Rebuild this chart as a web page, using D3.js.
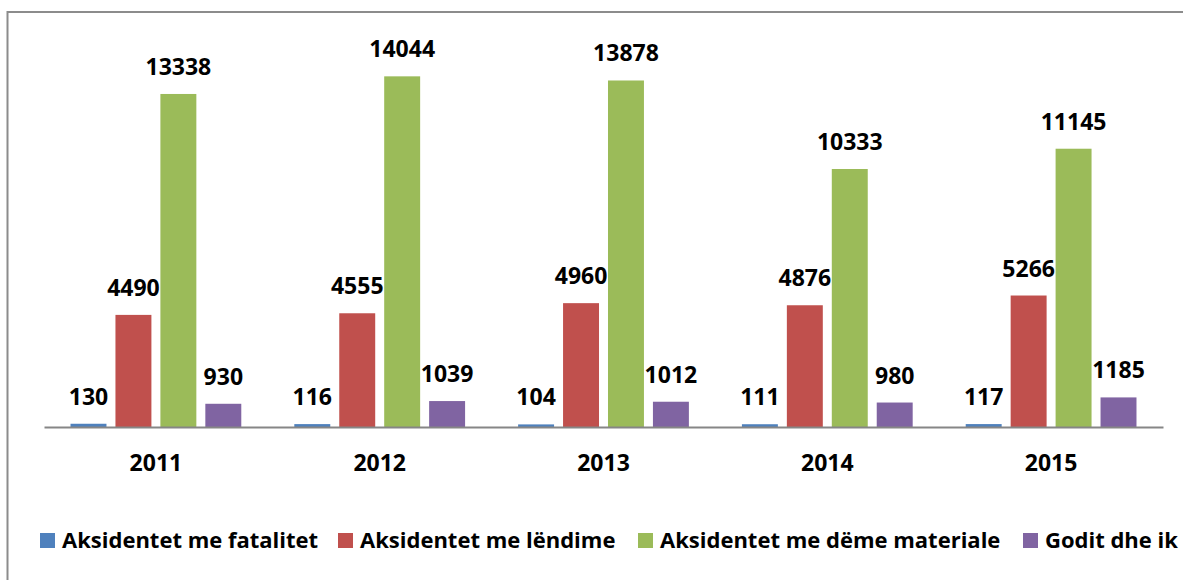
<!DOCTYPE html>
<html>
<head>
<meta charset="utf-8">
<script src="https://cdn.jsdelivr.net/npm/d3@7"></script>
<style>
  body { margin: 0; background: #fff; }
  svg text { font-family: "Open Sans", sans-serif; font-weight: bold; fill: #000; }
</style>
</head>
<body>
<div id="chart"></div>
<script>
var years = ["2011", "2012", "2013", "2014", "2015"];
var seriesNames = ["Aksidentet me fatalitet", "Aksidentet me lëndime", "Aksidentet me dëme materiale", "Godit dhe ik"];
var fatalitet = [130, 116, 104, 111, 117];
var lendime = [4490, 4555, 4960, 4876, 5266];
var demeMateriale = [13338, 14044, 13878, 10333, 11145];
var goditDheIk = [930, 1039, 1012, 980, 1185];
var colors = ["#4F81BD", "#C0504D", "#9BBB59", "#8064A2"];

var values = [fatalitet, lendime, demeMateriale, goditDheIk];

var width = 1183, height = 580;

var svg = d3.select("#chart").append("svg")
    .attr("width", width)
    .attr("height", height);

// outer frame (runs off the right and bottom edges)
svg.append("rect")
    .attr("x", 7.5)
    .attr("y", 12)
    .attr("width", 1300)
    .attr("height", 700)
    .attr("fill", "none")
    .attr("stroke", "#8c8c8c")
    .attr("stroke-width", 2);

var xScale = d3.scaleBand()
    .domain(years)
    .range([44, 1163]);

var xInner = d3.scaleBand()
    .domain(d3.range(seriesNames.length))
    .range([0, xScale.bandwidth()])
    .paddingInner(0.2)
    .paddingOuter(0.59);

var yScale = d3.scaleLinear()
    .domain([0, 16000])
    .range([427, 27.5]);

var groups = svg.selectAll(".year")
    .data(years)
  .enter().append("g")
    .attr("class", "year")
    .attr("transform", function(d) { return "translate(" + xScale(d) + ",0)"; });

function rows(d, i) {
  return values.map(function(s, k) { return {k: k, v: s[i]}; });
}

groups.selectAll("rect")
    .data(rows)
  .enter().append("rect")
    .attr("x", function(d) { return xInner(d.k); })
    .attr("y", function(d) { return yScale(d.v); })
    .attr("width", xInner.bandwidth())
    .attr("height", function(d) { return yScale(0) - yScale(d.v); })
    .attr("fill", function(d) { return colors[d.k]; });

groups.selectAll(".lbl")
    .data(rows)
  .enter().append("text")
    .attr("class", "lbl")
    .attr("x", function(d) { return xInner(d.k) + xInner.bandwidth() / 2; })
    .attr("y", function(d) { return yScale(d.v) - 19; })
    .attr("text-anchor", "middle")
    .style("font-size", "23px")
    .text(function(d) { return d.v; });

// x axis
var xAxis = svg.append("g")
    .attr("transform", "translate(0,427)")
    .call(d3.axisBottom(xScale).tickSize(0).tickPadding(28));
xAxis.select(".domain").attr("stroke", "#868686").attr("stroke-width", 2);
xAxis.selectAll("text")
    .style("font-size", "23px")
    .style("font-family", "'Open Sans', sans-serif")
    .style("font-weight", "bold")
    .attr("fill", "#000");

// legend
var legendX = [40, 338, 638, 1023];
var legend = svg.selectAll(".legend")
    .data(seriesNames)
  .enter().append("g")
    .attr("class", "legend")
    .attr("transform", function(d, i) { return "translate(" + legendX[i] + ",533)"; });

legend.append("rect")
    .attr("width", 15)
    .attr("height", 15)
    .attr("fill", function(d, i) { return colors[i]; });

legend.append("text")
    .attr("x", 22)
    .attr("y", 15)
    .style("font-size", "22px")
    .text(function(d) { return d; });
</script>
</body>
</html>
